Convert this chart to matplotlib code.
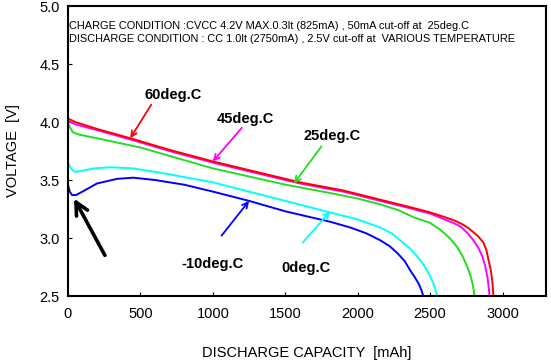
import matplotlib
matplotlib.use("Agg")
import matplotlib.pyplot as plt
import numpy as np

plt.rcParams['font.family'] = ['Liberation Sans', 'DejaVu Sans']

# discharge curves (capacity mAh, voltage V)
cap_60 = [0, 50, 200, 430, 700, 1000, 1300, 1600, 1900, 2156, 2350, 2502, 2600, 2670, 2720, 2760, 2799, 2835, 2868, 2890, 2903, 2918, 2930, 2937]
v_60 = [4.03, 4.00, 3.94, 3.86, 3.76, 3.66, 3.57, 3.48, 3.41, 3.33, 3.27, 3.22, 3.18, 3.15, 3.12, 3.09, 3.05, 3.01, 2.96, 2.89, 2.81, 2.73, 2.62, 2.50]

cap_45 = [0, 50, 200, 430, 700, 1000, 1300, 1600, 1900, 2156, 2350, 2502, 2600, 2660, 2709, 2760, 2799, 2835, 2861, 2880, 2896, 2905, 2910]
v_45 = [4.01, 3.98, 3.93, 3.85, 3.75, 3.65, 3.56, 3.47, 3.40, 3.32, 3.26, 3.21, 3.16, 3.13, 3.10, 3.04, 2.98, 2.91, 2.84, 2.76, 2.66, 2.57, 2.50]

cap_25 = [0, 15, 35, 80, 200, 500, 750, 1000, 1250, 1500, 1800, 2000, 2156, 2280, 2384, 2500, 2571, 2635, 2688, 2725, 2757, 2780, 2792, 2801, 2806]
v_25 = [3.99, 3.95, 3.91, 3.89, 3.86, 3.78, 3.69, 3.60, 3.53, 3.46, 3.39, 3.34, 3.29, 3.24, 3.18, 3.13, 3.07, 3.00, 2.92, 2.84, 2.75, 2.67, 2.61, 2.55, 2.50]

cap_0 = [0, 20, 48, 100, 180, 290, 450, 650, 1000, 1250, 1500, 1810, 2000, 2156, 2235, 2294, 2360, 2412, 2455, 2488, 2515, 2535, 2550]
v_0 = [3.65, 3.60, 3.57, 3.58, 3.60, 3.61, 3.60, 3.56, 3.48, 3.40, 3.32, 3.22, 3.16, 3.09, 3.04, 2.98, 2.91, 2.84, 2.77, 2.70, 2.63, 2.56, 2.50]

cap_m10 = [0, 12, 28, 55, 100, 200, 340, 450, 600, 800, 1000, 1250, 1500, 1810, 1950, 2060, 2156, 2220, 2274, 2325, 2363, 2395, 2419, 2440, 2453]
v_m10 = [3.46, 3.40, 3.37, 3.37, 3.40, 3.47, 3.51, 3.52, 3.50, 3.46, 3.40, 3.32, 3.23, 3.14, 3.09, 3.04, 2.98, 2.93, 2.87, 2.80, 2.72, 2.66, 2.61, 2.55, 2.50]

labels = ['60deg.C', '45deg.C', '25deg.C', '0deg.C', '-10deg.C']
colors = ['#ff0000', '#ff00ff', '#22dd22', '#00ffff', '#0000ff']

# label text position, arrow tail, arrow head (data coords)
label_pos = [(725, 4.23), (1225, 4.03), (1825, 3.88), (1640, 2.74), (1000, 2.78)]
arrow_tail = [(575, 4.15), (1200, 3.95), (1750, 3.79), (1620, 2.96), (1060, 3.02)]
arrow_head = [(430, 3.86), (1000, 3.66), (1560, 3.47), (1810, 3.23), (1250, 3.32)]

fig = plt.figure(figsize=(5.51, 3.62), dpi=100)
ax = fig.add_axes([68 / 551, 66 / 362, 478 / 551, 290 / 362])

for c, v, col in [(cap_m10, v_m10, colors[4]), (cap_0, v_0, colors[3]),
                  (cap_25, v_25, colors[2]), (cap_45, v_45, colors[1]),
                  (cap_60, v_60, colors[0])]:
    ax.plot(c, v, color=col, lw=1.4, solid_joinstyle='round')

for lab, col, tp, tail, head in zip(labels, colors, label_pos, arrow_tail, arrow_head):
    ax.text(tp[0], tp[1], lab, fontsize=10.5, fontweight='bold', ha='center', va='center')
    ax.annotate('', xy=head, xytext=tail,
                arrowprops=dict(arrowstyle='->', color=col, lw=1.3, shrinkA=0, shrinkB=0))

# black arrow pointing at the voltage dip
ax.annotate('', xy=(42, 3.34), xytext=(255, 2.85),
            arrowprops=dict(arrowstyle='->,head_length=0.9,head_width=0.45', color='black', lw=2.6,
                            shrinkA=0, shrinkB=0))

ax.text(0.003, 0.93, 'CHARGE CONDITION :CVCC 4.2V MAX.0.3lt (825mA) , 50mA cut-off at  25deg.C',
        transform=ax.transAxes, fontsize=7.9, va='center')
ax.text(0.003, 0.885, 'DISCHARGE CONDITION : CC 1.0lt (2750mA) , 2.5V cut-off at  VARIOUS TEMPERATURE',
        transform=ax.transAxes, fontsize=7.9, va='center')

ax.set_xlim(0, 3300)
ax.set_ylim(2.5, 5.0)
ax.set_xticks([0, 500, 1000, 1500, 2000, 2500, 3000])
ax.set_yticks([2.5, 3.0, 3.5, 4.0, 4.5, 5.0])
ax.set_yticklabels(['2.5', '3.0', '3.5', '4.0', '4.5', '5.0'])
ax.tick_params(direction='in', length=3, labelsize=10.5, pad=8)
ax.tick_params(axis='y', pad=6)
for s in ax.spines.values():
    s.set_linewidth(1.5)

ax.set_xlabel('DISCHARGE CAPACITY  [mAh]', fontsize=10.5, labelpad=18)
ax.set_ylabel('VOLTAGE  [V]', fontsize=10.5, labelpad=14)

fig.savefig('out.png', dpi=100)
